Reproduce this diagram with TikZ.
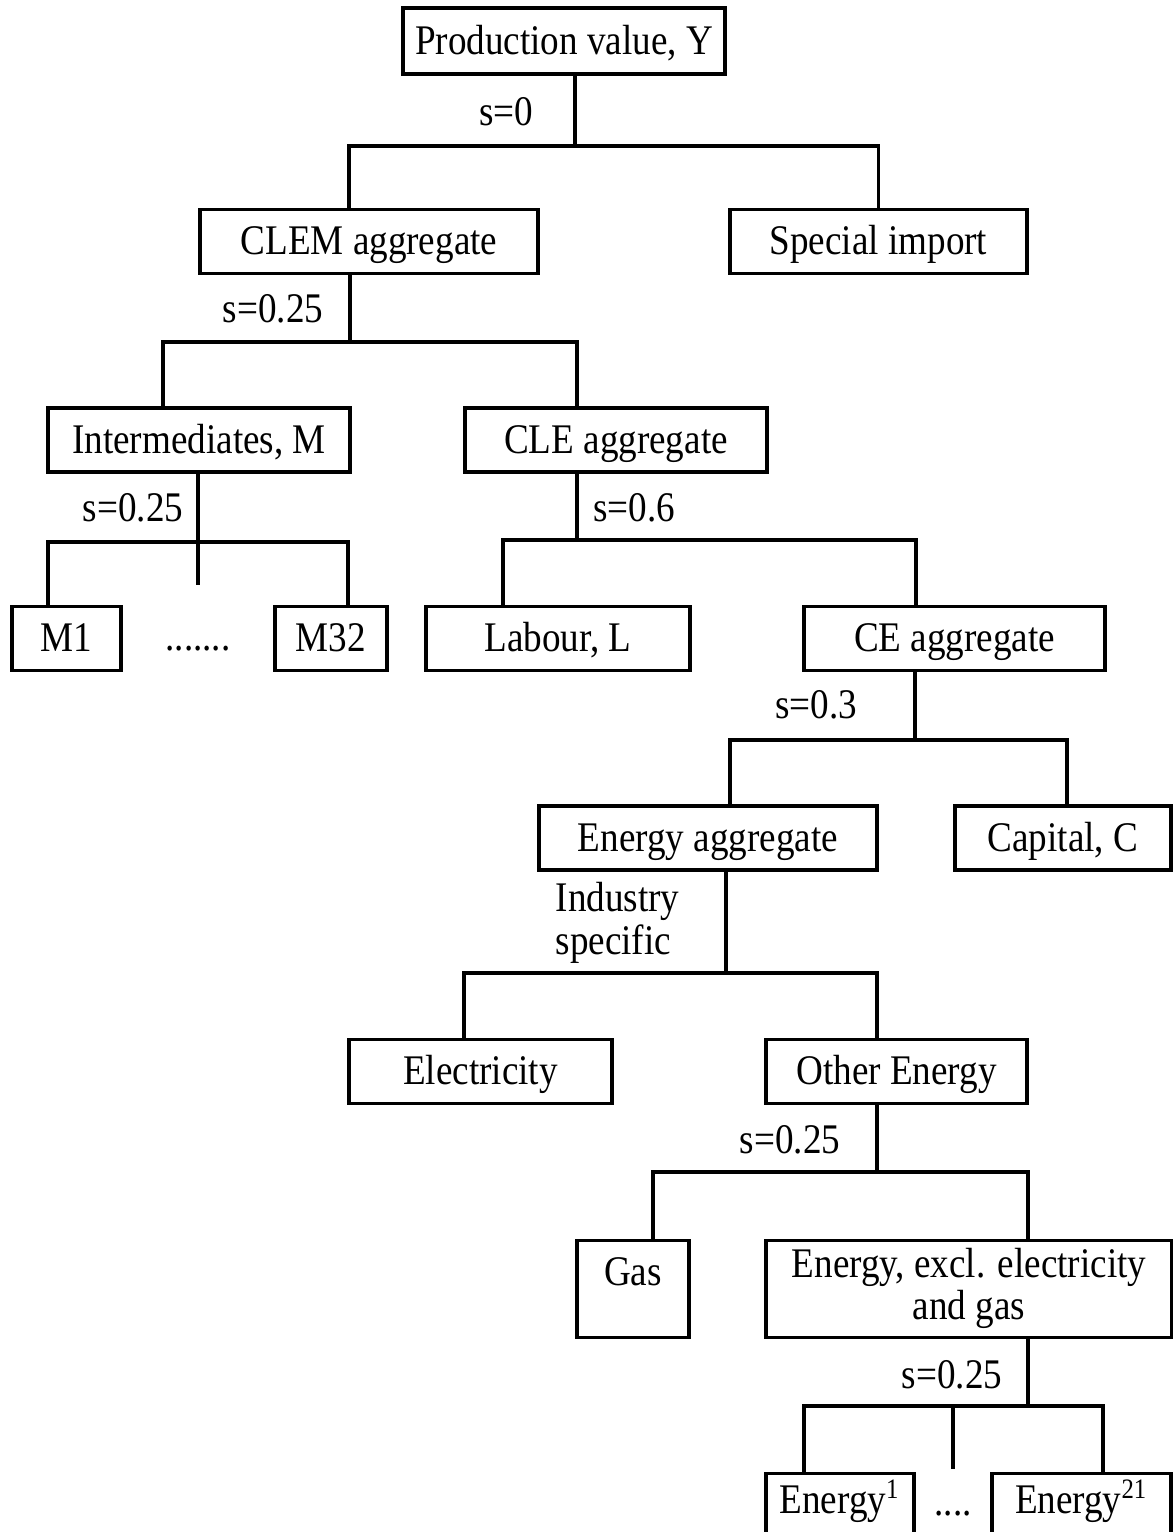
\documentclass[tikz,border=0pt]{standalone}
\usepackage{fontspec}
\setmainfont{Liberation Serif}[FakeStretch=0.88]
\usepackage{tikz}
\tikzset{
    mybox/.style={rectangle,draw=black,line width=0.9pt,inner sep=0pt,minimum height=0.64cm,
      text height=0.36cm,text depth=0.10cm,text centered},
    mylabel/.style={inner sep=0pt,text centered},
    myline/.style={line width=0.9pt}
}

\begin{document}
\begin{tikzpicture}[font=\fontsize{12}{10}\selectfont]
    \useasboundingbox (0,0) rectangle (11.73,-15.32);
    % boxes
    \node[mybox, minimum width=3.22cm, minimum height=0.66cm] (prod) at (5.64,-0.41) {Production value, Y};
    \node[mybox, minimum width=3.38cm] (clem) at (3.69,-2.415) {CLEM aggregate};
    \node[mybox, minimum width=2.97cm] (spec) at (8.785,-2.415) {Special import};
    \node[mybox, minimum width=3.02cm] (inter) at (1.99,-4.40) {Intermediates, M};
    \node[mybox, minimum width=3.02cm] (cle) at (6.16,-4.40) {CLE aggregate};
    \node[mybox, minimum width=1.09cm] (m1) at (0.665,-6.385) {M1};
    \node[mybox, minimum width=1.12cm] (m32) at (3.31,-6.385) {M32};
    \node[mybox, minimum width=2.64cm] (labour) at (5.58,-6.385) {Labour, L};
    \node[mybox, minimum width=3.01cm] (ce) at (9.545,-6.385) {CE aggregate};
    \node[mybox, minimum width=3.38cm] (enagg) at (7.08,-8.38) {Energy aggregate};
    \node[mybox, minimum width=2.16cm] (capital) at (10.63,-8.38) {Capital, C};
    \node[mybox, minimum width=2.63cm] (elec) at (4.805,-10.715) {Electricity};
    \node[mybox, minimum width=2.61cm] (other) at (8.965,-10.715) {Other Energy};
    \node[mybox, minimum width=1.12cm, text height=0.45cm, text depth=0.52cm] (gas) at (6.33,-12.39) [anchor=north] {Gas};
    \node[mybox, minimum width=4.06cm, text height=0.79cm, text depth=0.18cm, align=center] (excl) at (9.69,-12.39) [anchor=north]
      {Energy, excl. electricity\\and gas};
    \node[mybox, minimum width=1.48cm, text height=0.40cm, text depth=0.26cm] (en1) at (8.40,-14.72) [anchor=north] {Energy\textsuperscript{1}};
    \node[mybox, minimum width=1.79cm, text height=0.40cm, text depth=0.26cm] (en21) at (10.815,-14.72) [anchor=north] {Energy\textsuperscript{21}};
    \node[mylabel, anchor=base] (dotsm) at (1.98,-6.50) {.......};
    \node[mylabel, anchor=base] (dotse) at (9.53,-15.15) {....};
    % elasticities
    \node[mylabel] (s0) at (5.06,-1.12) {s=0};
    \node[mylabel] (s1) at (2.73,-3.09) {s=0.25};
    \node[mylabel] (s2) at (1.33,-5.08) {s=0.25};
    \node[mylabel] (s3) at (6.34,-5.08) {s=0.6};
    \node[mylabel] (s4) at (8.16,-7.05) {s=0.3};
    \node[mylabel, anchor=west, align=left] (s5) at (5.55,-9.23) {Industry\\specific};
    \node[mylabel] (s6) at (7.90,-11.40) {s=0.25};
    \node[mylabel] (s7) at (9.52,-13.75) {s=0.25};
    % branch points
    \coordinate (b0) at (5.75,-1.46);
    \coordinate (b1) at (3.50,-3.42);
    \coordinate (b2) at (1.98,-5.42);
    \coordinate (b3) at (5.77,-5.40);
    \coordinate (b4) at (9.15,-7.40);
    \coordinate (b5) at (7.26,-9.73);
    \coordinate (b6) at (8.77,-11.72);
    \coordinate (b7) at (10.28,-14.06);
    % connectors
    \draw[myline] (b0 |- prod.south) -- (b0);
    \draw[myline] ([xshift=-2mm]clem.north) |- (b0) -| (spec.north);
    \draw[myline] (b1 |- clem.south) -- (b1);
    \draw[myline] ([xshift=-3.6mm]inter.north) |- (b1) -| ([xshift=-3.9mm]cle.north);
    \draw[myline] (b2 |- inter.south) -- (b2);
    \draw[myline] ([xshift=-1.85mm]m1.north) |- (b2) -| ([xshift=1.7mm]m32.north);
    \draw[myline] (b2) -- ([yshift=2mm]b2 |- m1.north);
    \draw[myline] (b3 |- cle.south) -- (b3);
    \draw[myline] ([xshift=-5.5mm]labour.north) |- (b3) -| ([xshift=-3.85mm]ce.north);
    \draw[myline] (b4 |- ce.south) -- (b4);
    \draw[myline] ([xshift=2.2mm]enagg.north) |- (b4) -| ([xshift=0.4mm]capital.north);
    \draw[myline] (b5 |- enagg.south) -- (b5);
    \draw[myline] ([xshift=-1.65mm]elec.north) |- (b5) -| ([xshift=-1.95mm]other.north);
    \draw[myline] (b6 |- other.south) -- (b6);
    \draw[myline] ([xshift=2mm]gas.north) |- (b6) -| ([xshift=5.9mm]excl.north);
    \draw[myline] (b7 |- excl.south) -- (b7);
    \draw[myline] ([xshift=-3.6mm]en1.north) |- (b7) -| ([xshift=2.15mm]en21.north);
    \draw[myline] (b7 -| dotse) -- ([yshift=0.3mm]dotse |- en1.north);
\end{tikzpicture}
\end{document}
